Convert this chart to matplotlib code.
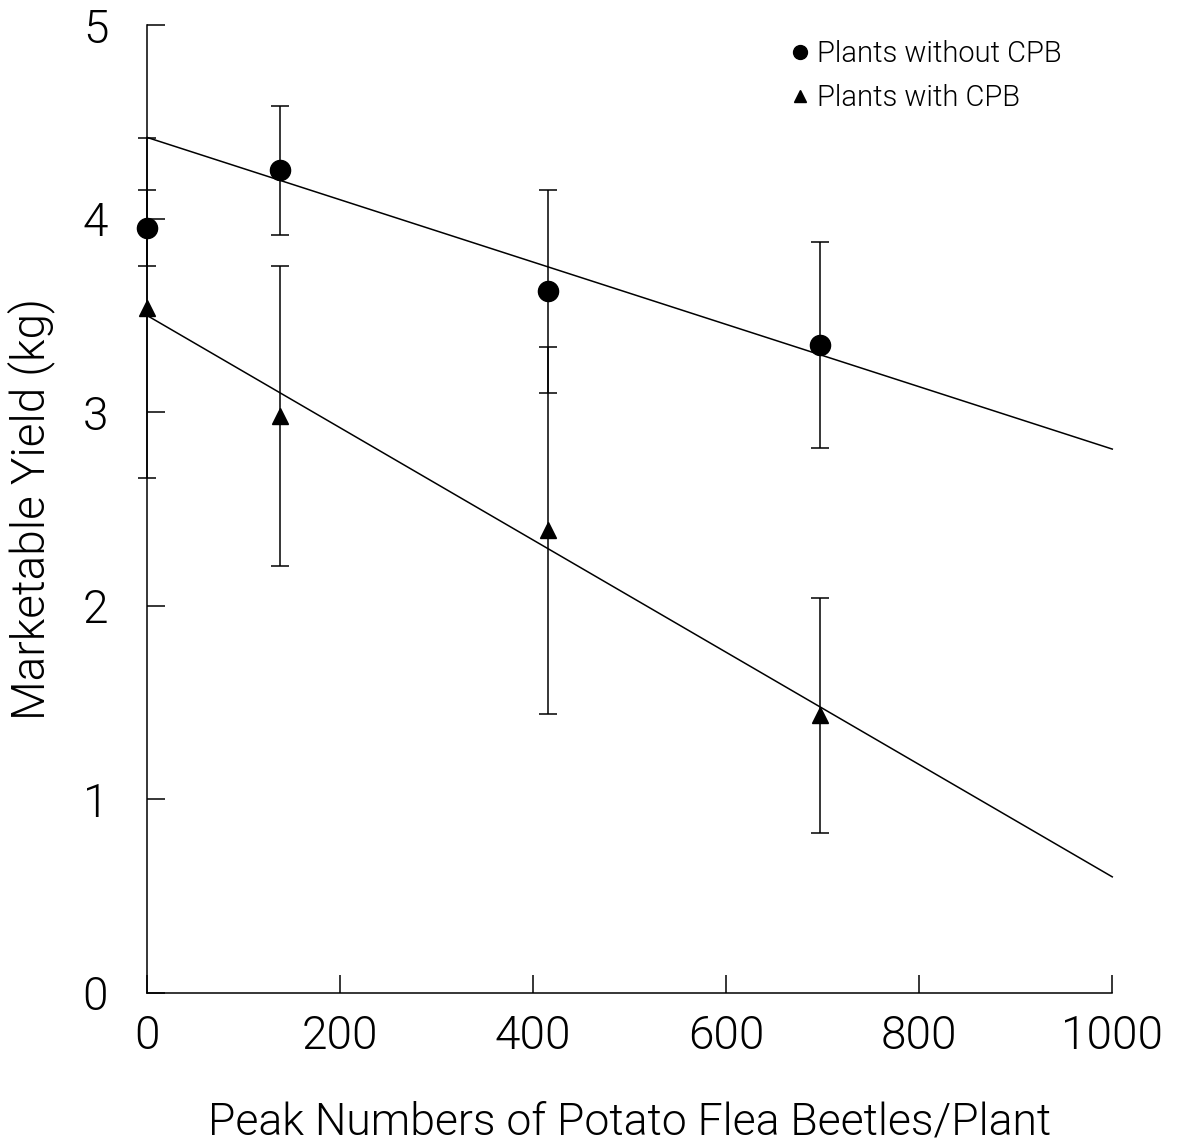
import matplotlib
matplotlib.use("Agg")
import matplotlib.pyplot as plt
from matplotlib.lines import Line2D

# Peak potato flea beetle counts per plant
beetles = [0, 138, 415, 697]

# Marketable yield (kg) of plants without Colorado potato beetle
yield_without = [3.95, 4.25, 3.625, 3.35]
err_without = [0.196, 0.333, 0.525, 0.532]

# Marketable yield (kg) of plants with Colorado potato beetle
yield_with = [3.54, 2.98, 2.39, 1.436]
err_with = [0.878, 0.775, 0.948, 0.607]

# Fitted regression lines
fit_x = [0, 1000]
fit_without = [4.42, 2.81]
fit_with = [3.50, 0.60]

x_ticks = [0, 200, 400, 600, 800, 1000]
y_ticks = [0, 1, 2, 3, 4, 5]

plt.rcParams['font.family'] = ['Roboto', 'DejaVu Sans']
plt.rcParams['font.weight'] = 300
plt.rcParams['axes.labelweight'] = 300

fig = plt.figure(figsize=(11.77, 11.44), dpi=100)
ax = fig.add_axes([0.125, 0.132, 0.820, 0.846])

lw = 1.1
ax.plot(fit_x, fit_without, color='black', lw=lw, clip_on=False)
ax.plot(fit_x, fit_with, color='black', lw=lw, clip_on=False)

ax.errorbar(beetles, yield_without, yerr=err_without, fmt='o', color='black',
            ms=14.5, elinewidth=lw, capsize=6.5, capthick=lw, clip_on=False)
ax.errorbar(beetles, yield_with, yerr=err_with, fmt='^', color='black',
            ms=12, elinewidth=lw, capsize=6.5, capthick=lw, clip_on=False)

ax.set_xlim(0, 1000)
ax.set_ylim(0, 5)
ax.set_xticks(x_ticks)
ax.set_yticks(y_ticks)
ax.set_xticklabels([str(v) for v in x_ticks])
ax.set_yticklabels([str(v) for v in y_ticks])

for side in ('top', 'right'):
    ax.spines[side].set_visible(False)
for side in ('left', 'bottom'):
    ax.spines[side].set_linewidth(lw)

ax.tick_params(axis='both', direction='in', length=13, width=lw,
               labelsize=33)
ax.tick_params(axis='y', pad=28)
ax.tick_params(axis='x', pad=15)

ax.set_xlabel('Peak Numbers of Potato Flea Beetles/Plant', fontsize=32,
              labelpad=31, fontweight=300)
ax.set_ylabel('Marketable Yield (kg)', fontsize=33, labelpad=20,
              fontweight=300)

handles = [
    Line2D([], [], marker='o', ls='none', color='black', ms=10),
    Line2D([], [], marker='^', ls='none', color='black', ms=9),
]
ax.legend(handles, ['Plants without CPB', 'Plants with CPB'],
          loc='upper left', bbox_to_anchor=(0.655, 0.997), frameon=False,
          prop={'size': 21, 'weight': 300}, handlelength=0.6,
          handletextpad=0.3, labelspacing=0.55, borderaxespad=0)

fig.savefig('out.png', dpi=100, facecolor='white')
